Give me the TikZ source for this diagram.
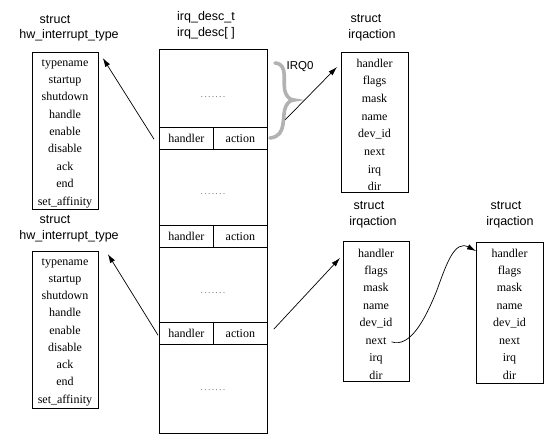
\documentclass[tikz,border=0pt]{standalone}
\usepackage{fontspec}
\setmainfont{Liberation Serif}
\newfontfamily\sansttl{Liberation Sans}
\usetikzlibrary{arrows.meta}
\begin{document}
\begin{tikzpicture}[x=1pt,y=-1pt,
  fld/.style={font=\fontsize{12}{12}\selectfont, inner sep=0pt, anchor=base},
  sbox/.style={draw, line width=0.8pt, minimum width=66pt, inner sep=0pt, anchor=north west},
  ttl/.style={font=\sansttl\fontsize{12.5}{15.5}\selectfont, align=center, inner sep=0pt},
  cell/.style={draw, line width=0.8pt, minimum width=54pt, minimum height=21.5pt, inner sep=0pt,
    anchor=north west, font=\fontsize{12}{12}\selectfont},
  dotrow/.style={text=gray, font=\fontsize{10}{12}\selectfont, inner sep=0pt},
  arr/.style={-{Latex[length=9pt,width=5.5pt]}, line width=0.7pt},
  brc/.style={draw=gray!60, line width=3.6pt, line cap=round}
]
\useasboundingbox (0,0) rectangle (554,445);

% ---------- titles ----------
\node[ttl] (ttl-tl) at (69,28.5) {struct\hspace*{28pt}\\hw\_interrupt\_type};
\node[ttl] (ttl-bl) at (69,229) {struct\hspace*{28pt}\\hw\_interrupt\_type};
\node[ttl, align=left, anchor=west] (ttl-desc) at (177,25.5) {irq\_desc\_t\\irq\_desc[ ]};
\node[ttl] (ttl-a1) at (372,28) {struct\hspace*{12pt}\\irqaction};
\node[ttl] (ttl-a2) at (373,215) {struct\hspace*{8pt}\\irqaction};
\node[ttl] (ttl-a3) at (510,215) {struct\hspace*{8pt}\\irqaction};

% ---------- hw_interrupt_type boxes ----------
\node[sbox, minimum height=157pt] (tlbox) at (32,52) {};
\foreach \t [count=\i] in {typename,startup,shutdown,handle,enable,disable,ack,end,set\_affinity}
  \node[fld] (tl-\i) at (65,{66+17.375*(\i-1)}) {\t};
\node[sbox, minimum height=157pt] (blbox) at (32,251) {};
\foreach \t [count=\i] in {typename,startup,shutdown,handle,enable,disable,ack,end,set\_affinity}
  \node[fld] (bl-\i) at (65,{265+17.25*(\i-1)}) {\t};

% ---------- irqaction boxes ----------
\node[sbox, minimum width=67pt, minimum height=140pt] (a1box) at (341,52) {};
\foreach \t [count=\i] in {handler,flags,mask,name,dev\_id,next,irq,dir}
  \node[fld] (a1-\i) at (374.5,{67+17.71*(\i-1)}) {\t};
\node[sbox, minimum height=140pt] (a2box) at (343,241) {};
\foreach \t [count=\i] in {handler,flags,mask,name,dev\_id,next,irq,dir}
  \node[fld] (a2-\i) at (376,{257+17.43*(\i-1)}) {\t};
\node[sbox, minimum width=67pt, minimum height=141pt] (a3box) at (476,242) {};
\foreach \t [count=\i] in {handler,flags,mask,name,dev\_id,next,irq,dir}
  \node[fld] (a3-\i) at (509.5,{257+17.43*(\i-1)}) {\t};

% ---------- irq_desc column ----------
\node[draw, line width=0.8pt, minimum width=108pt, minimum height=384pt, inner sep=0pt,
  anchor=north west] (desc) at (159,49) {};
\node[cell] (h1) at (159,127) {handler};
\node[cell] (c1) at (213,127) {action};
\node[cell] (h2) at (159,225) {handler};
\node[cell] (c2) at (213,225) {action};
\node[cell] (h3) at (159,322) {handler};
\node[cell] (c3) at (213,322) {action};
\node[dotrow] (d1) at (213,97) {.\kern1.2pt.\kern1.2pt.\kern1.2pt.\kern1.2pt.\kern1.2pt.\kern1.2pt.};
\node[dotrow] (d2) at (213,194) {.\kern1.2pt.\kern1.2pt.\kern1.2pt.\kern1.2pt.\kern1.2pt.\kern1.2pt.};
\node[dotrow] (d3) at (213,293) {.\kern1.2pt.\kern1.2pt.\kern1.2pt.\kern1.2pt.\kern1.2pt.\kern1.2pt.};
\node[dotrow] (d4) at (213,390) {.\kern1.2pt.\kern1.2pt.\kern1.2pt.\kern1.2pt.\kern1.2pt.\kern1.2pt.};

% ---------- brace and IRQ0 ----------
\draw[brc] (275,63) .. controls (290,64) and (281,85) .. (286,94)
  .. controls (288,98) and (291,100) .. (294,100)
  .. controls (291,100) and (288,102) .. (286,106)
  .. controls (281,116) and (288,136) .. (270,138);
\node[font=\sansttl\fontsize{11.5}{12}\selectfont, inner sep=0pt] (irq0) at (300,67) {IRQ0};
\coordinate (irqs) at (285,120);

% ---------- arrows ----------
\draw[arr] ([shift={(-5,1)}]h1.west) -- ([shift={(4,6)}]tlbox.north east);
\draw[arr] ([shift={(-1,2)}]h3.west) -- ([shift={(9,3)}]blbox.north east);
\draw[arr] (irqs) -- ([shift={(-4,15)}]a1box.north west);
\draw[arr] ([shift={(6,-4)}]c3.east) -- ([shift={(-3,17)}]a2box.north west);
\draw[arr] ([shift={(5,1)}]a2-6.east) .. controls (410,348) and (425,320) .. (437,290)
  .. controls (447,262) and (455,240) .. ([shift={(0,9)}]a3box.north west);
\end{tikzpicture}
\end{document}
